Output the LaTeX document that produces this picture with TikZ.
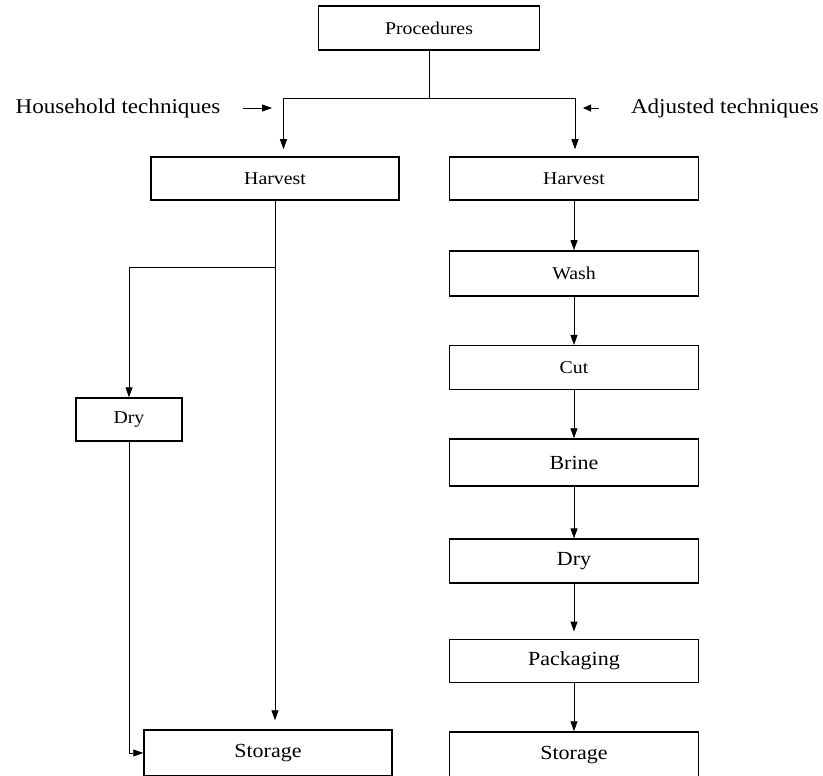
\documentclass[tikz,border=0pt]{standalone}
\usepackage{fontspec}
\setmainfont{Liberation Serif}[FakeStretch=1.1]
\usetikzlibrary{arrows.meta}
\begin{document}
\begin{tikzpicture}[x=1pt,y=-1pt,
  box/.style={draw, line width=1.5pt, rectangle, inner sep=0pt, minimum width=249pt, font=\fontsize{18}{20}\selectfont},
  bigtxt/.style={font=\fontsize{20}{22}\selectfont},
  lab/.style={inner sep=0pt, font=\fontsize{21}{24}\selectfont},
  conn/.style={line width=0.9pt},
  arr/.style={conn, -{Triangle[length=10pt,width=7pt]}}]
\useasboundingbox[fill=white] (0,0) rectangle (823,776);

% top
\node[box, minimum width=221pt, minimum height=44pt] (proc) at (429,28) {Procedures};
\coordinate (j) at (429,98);
\coordinate (jl) at (283.5,98);
\coordinate (jr) at (575,98);
\draw[conn] (proc.south) -- (j);
\draw[conn] (jl) -- (jr);

% labels
\node[lab] (hht) at (118,108) {Household techniques};
\coordinate (ha) at (272,108);
\draw[arr, shorten <=22pt] (hht.east) -- (ha);
\node[lab] (adj) at (725,108) {Adjusted techniques};
\coordinate (aa) at (583,108);
\draw[conn, -{Triangle[length=8pt,width=7pt]}, shorten <=32pt] (adj.west) -- (aa);

% left column
\node[box, minimum width=248pt, minimum height=43pt] (hl) at (275,178.5) {Harvest};
\node[box, minimum width=106pt, minimum height=43pt] (dl) at (129,419.5) {Dry};
\node[box, bigtxt, minimum width=248pt, minimum height=46pt] (sl) at (268,753) {Storage};

% right column
\node[box, minimum height=43pt] (hr) at (574,178.5) {Harvest};
\node[box, minimum height=45pt] (wash) at (574,273.4) {Wash};
\node[box, minimum height=43.6pt] (cut) at (574,367.5) {Cut};
\node[box, bigtxt, minimum height=47pt] (brine) at (574,462.5) {Brine};
\node[box, bigtxt, minimum height=43.7pt] (dr) at (574,561) {Dry};
\node[box, bigtxt, minimum height=43.4pt] (pack) at (574,661) {Packaging};
\node[box, bigtxt, minimum height=46pt] (sr) at (574,755) {Storage};

% connectors from junction
\draw[arr, shorten >=7pt] (jl) -- (jl |- hl.north);
\draw[arr, shorten >=7pt] (jr) -- (jr |- hr.north);

% left connectors
\coordinate (b) at (275,267);
\draw[arr, shorten >=9pt] (hl.south) -- (hl.south |- sl.north);
\draw[arr] (b) -| (dl.north);
\draw[arr] (dl.south) |- (sl.west);

% right connectors
\draw[arr] (hr.south) -- (wash.north);
\draw[arr] (wash.south) -- (cut.north);
\draw[arr] (cut.south) -- (brine.north);
\draw[arr] (brine.south) -- (dr.north);
\draw[arr, shorten >=7pt] (dr.south) -- (pack.north);
\draw[arr] (pack.south) -- (sr.north);
\end{tikzpicture}
\end{document}
